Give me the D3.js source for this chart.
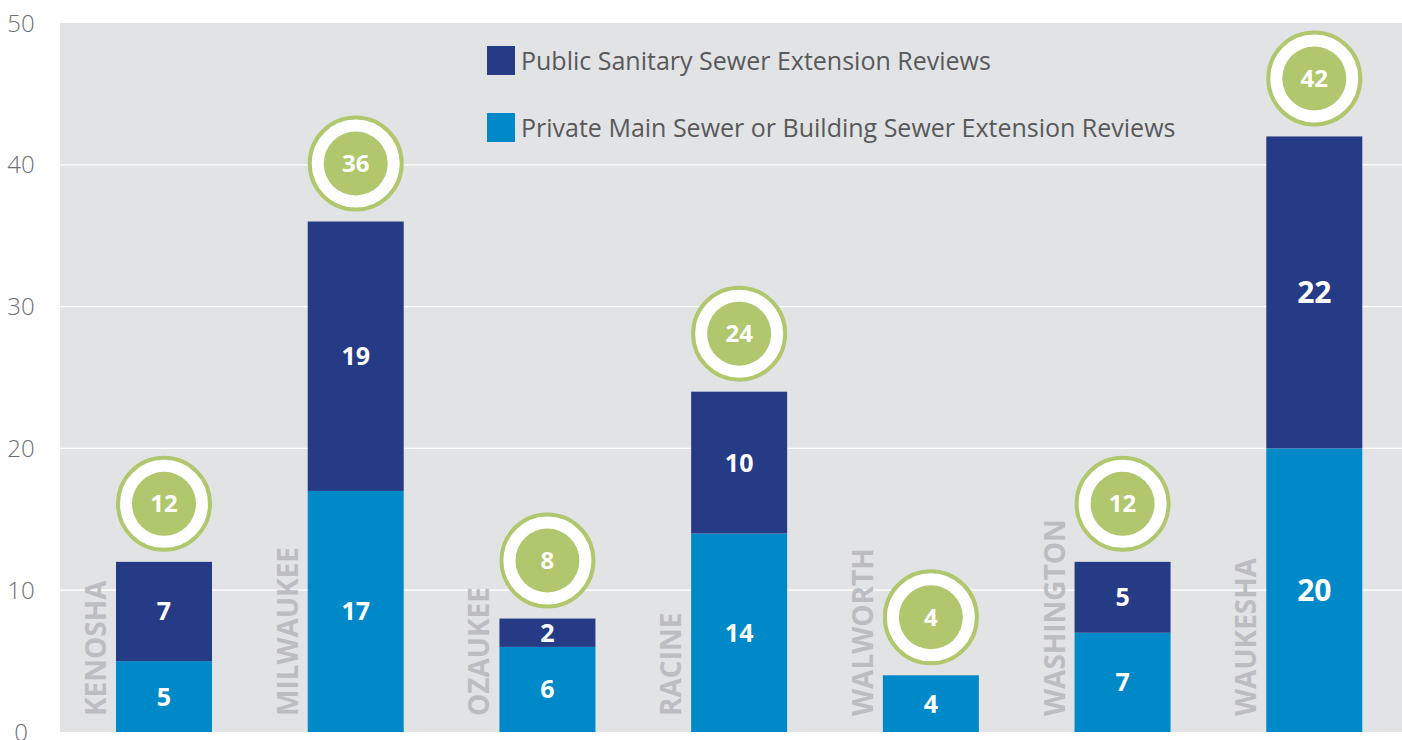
<!DOCTYPE html>
<html>
<head>
<meta charset="utf-8">
<script src="https://cdn.jsdelivr.net/npm/d3@7"></script>
<style>
  body { margin: 0; background: #fff; }
  svg { display: block; font-family: "Open Sans", sans-serif; }
</style>
</head>
<body>
<svg id="chart" width="1402" height="740"></svg>
<script>
const counties = ['KENOSHA', 'MILWAUKEE', 'OZAUKEE', 'RACINE', 'WALWORTH', 'WASHINGTON', 'WAUKESHA'];
const publicReviews = [7, 19, 2, 10, 0, 5, 22];
const privateReviews = [5, 17, 6, 14, 4, 7, 20];
const yTicks = [0, 10, 20, 30, 40, 50];
const seriesNames = ['Public Sanitary Sewer Extension Reviews', 'Private Main Sewer or Building Sewer Extension Reviews'];

const colors = { public: '#263b85', private: '#0089c8', green: '#b0c76d', bg: '#e2e3e5' };

const svg = d3.select('#chart');
const plot = { left: 60, right: 1402, top: 23, bottom: 732 };

const x = d3.scaleBand().domain(counties).range([plot.left, plot.right]);
const y = d3.scaleLinear().domain([0, 50]).range([plot.bottom, plot.top]);
const barOffset = 56, barWidth = 96;

// plot background
svg.append('rect')
  .attr('x', plot.left).attr('y', plot.top)
  .attr('width', plot.right - plot.left).attr('height', plot.bottom - plot.top)
  .attr('fill', colors.bg);

// gridlines
svg.append('g')
  .selectAll('line')
  .data(yTicks.filter(t => t > 0 && t < 50))
  .enter().append('line')
  .attr('x1', plot.left).attr('x2', plot.right)
  .attr('y1', d => y(d)).attr('y2', d => y(d))
  .attr('stroke', '#fff').attr('stroke-width', 1.2);

// y axis labels
svg.append('g')
  .selectAll('text')
  .data(yTicks)
  .enter().append('text')
  .attr('x', 21).attr('y', d => y(d))
  .attr('dy', '0.36em')
  .attr('text-anchor', 'middle')
  .style('font-size', '24px')
  .style('font-weight', 300)
  .attr('fill', '#6d6e71')
  .text(d => d);

const rows = counties.map((c, i) => ({
  county: c, pub: publicReviews[i], priv: privateReviews[i], total: publicReviews[i] + privateReviews[i]
}));

const groups = svg.append('g')
  .selectAll('g')
  .data(rows)
  .enter().append('g');

// private (bottom) segment
groups.append('rect')
  .attr('x', d => x(d.county) + barOffset)
  .attr('width', barWidth)
  .attr('y', d => y(d.priv))
  .attr('height', d => y(0) - y(d.priv))
  .attr('fill', colors.private);

// public (top) segment
groups.append('rect')
  .attr('x', d => x(d.county) + barOffset)
  .attr('width', barWidth)
  .attr('y', d => y(d.total))
  .attr('height', d => y(d.priv) - y(d.total))
  .attr('fill', colors.public);

const labelStyle = sel => sel
  .attr('text-anchor', 'middle')
  .attr('dy', '0.36em')
  .style('font-size', '25px')
  .style('font-weight', 700)
  .attr('fill', '#fff');

// the tallest bar uses bigger numbers in the source
const segSize = d => d.total >= 40 ? '30px' : '25px';

groups.append('text')
  .attr('x', d => x(d.county) + barOffset + barWidth / 2)
  .attr('y', d => (y(0) + y(d.priv)) / 2)
  .call(labelStyle)
  .style('font-size', segSize)
  .text(d => d.priv);

groups.filter(d => d.pub > 0).append('text')
  .attr('x', d => x(d.county) + barOffset + barWidth / 2)
  .attr('y', d => (y(d.priv) + y(d.total)) / 2)
  .call(labelStyle)
  .style('font-size', segSize)
  .text(d => d.pub);

// county names, rotated
groups.append('text')
  .attr('transform', d => `translate(${x(d.county) + barOffset - 10},${plot.bottom - 16}) rotate(-90)`)
  .style('font-size', '28px')
  .style('font-weight', 700)
  .attr('fill', '#bcbdc0')
  .text(d => d.county);

// total badges
const badge = groups.append('g')
  .attr('transform', d => `translate(${x(d.county) + barOffset + barWidth / 2},${y(d.total) - 58})`);
badge.append('circle')
  .attr('r', 46)
  .attr('fill', '#fff')
  .attr('stroke', colors.green)
  .attr('stroke-width', 4);
badge.append('circle')
  .attr('r', 32)
  .attr('fill', colors.green);
badge.append('text')
  .call(labelStyle)
  .style('font-size', '24px')
  .text(d => d.total);

// legend
const legend = svg.append('g')
  .selectAll('g')
  .data(seriesNames)
  .enter().append('g')
  .attr('transform', (d, i) => `translate(487,${46 + i * 67})`);
legend.append('rect')
  .attr('width', 28).attr('height', 29)
  .attr('fill', (d, i) => i === 0 ? colors.public : colors.private);
legend.append('text')
  .attr('x', 34).attr('y', 14.5)
  .attr('dy', '0.36em')
  .style('font-size', '25px')
  .attr('fill', '#58595b')
  .text(d => d);
</script>
</body>
</html>
